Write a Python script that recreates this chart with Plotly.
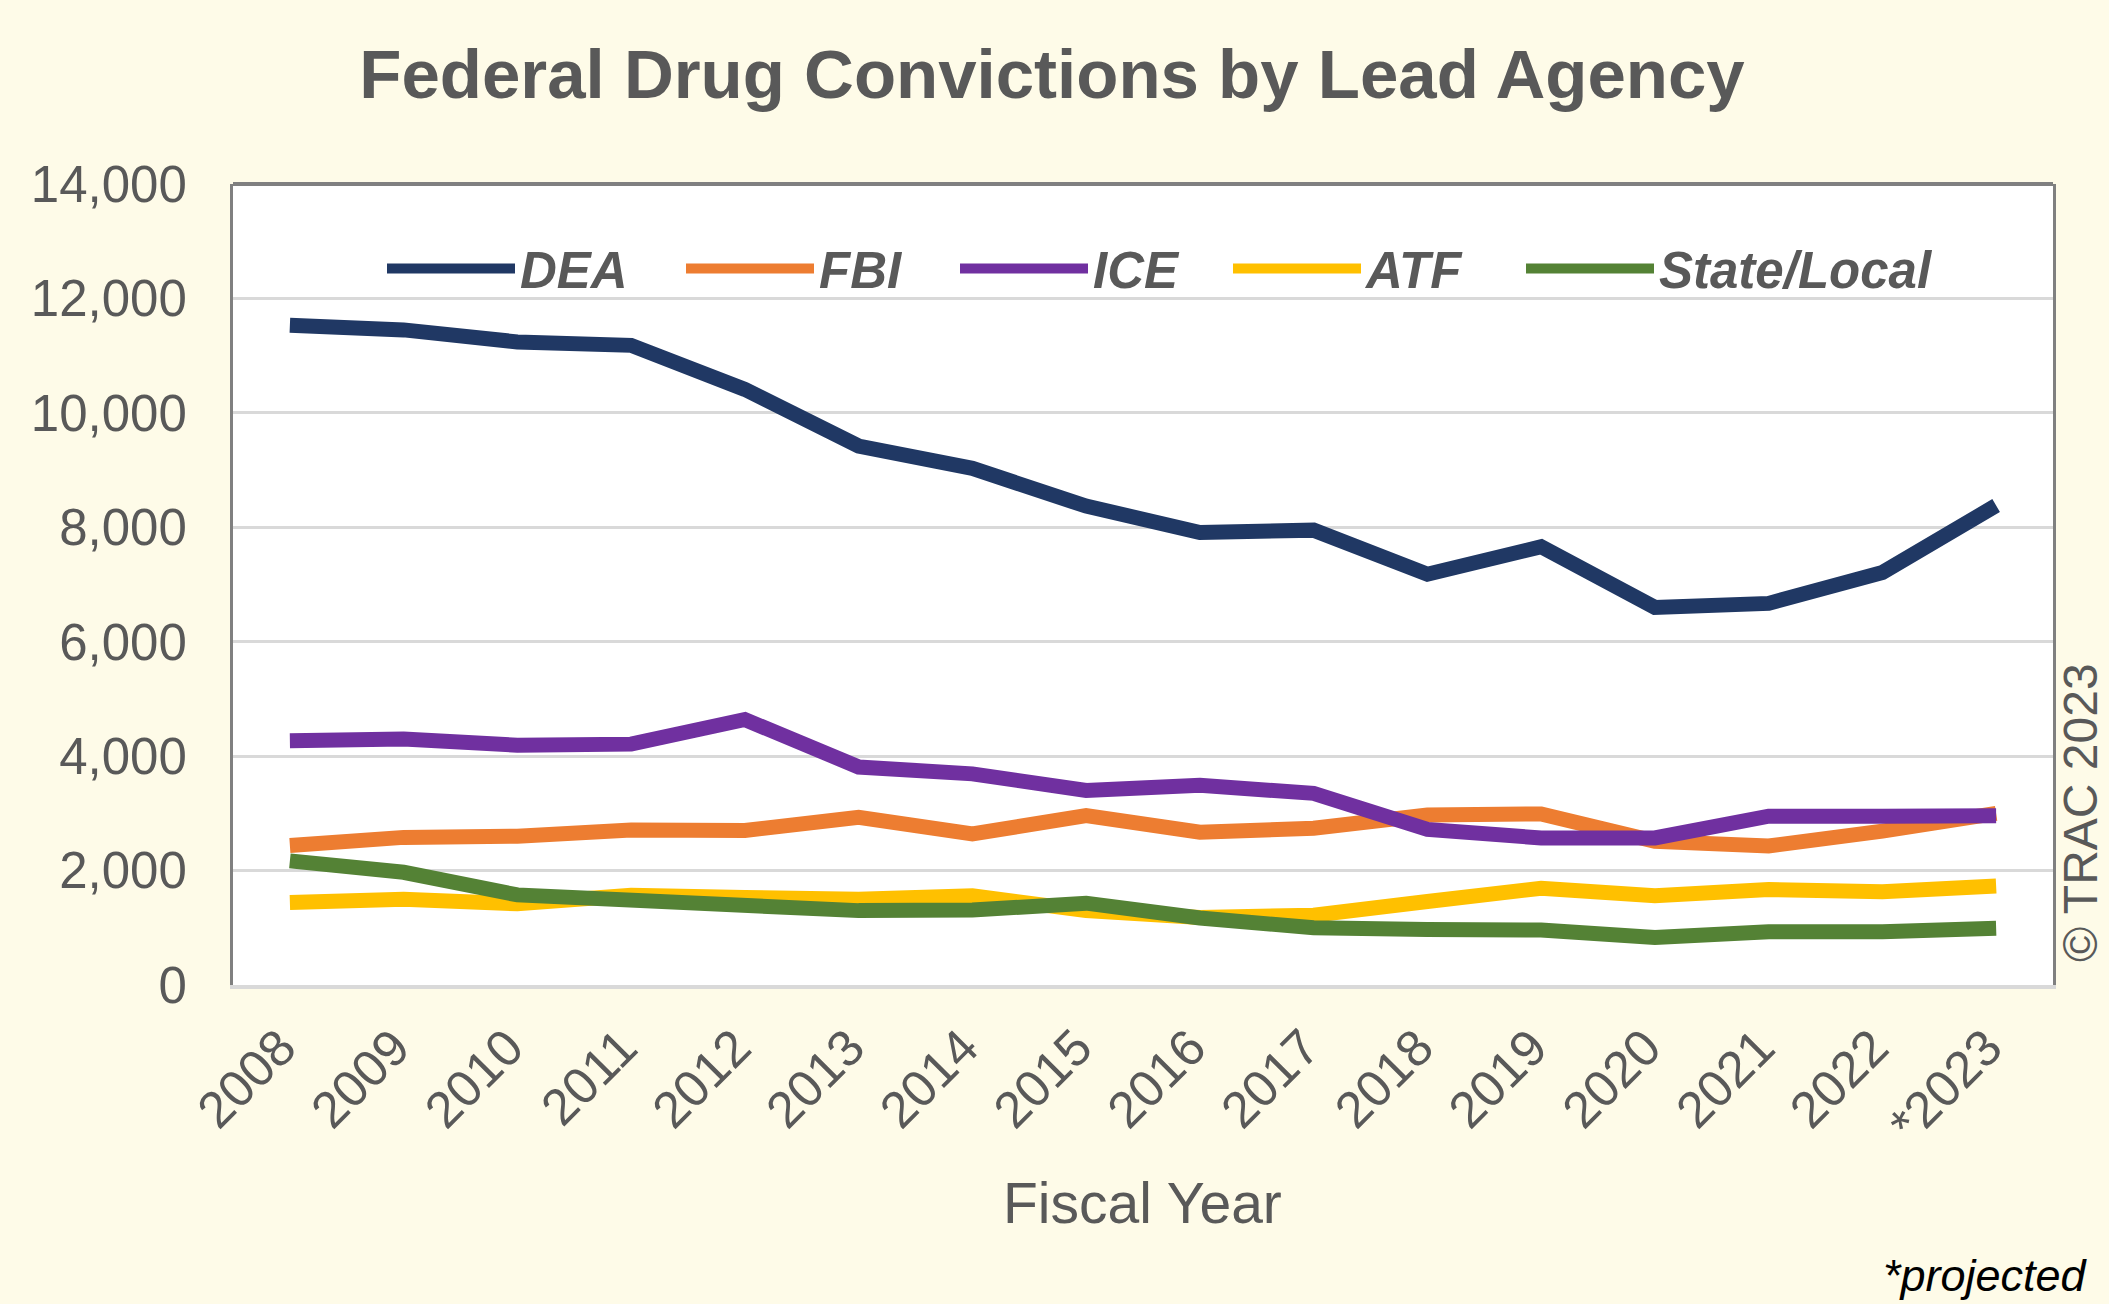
import plotly.graph_objects as go

years = ["2008", "2009", "2010", "2011", "2012", "2013", "2014", "2015",
         "2016", "2017", "2018", "2019", "2020", "2021", "2022", "*2023"]

dea = [11530, 11450, 11240, 11180, 10410, 9420, 9030, 8370,
       7910, 7950, 7180, 7660, 6600, 6670, 7210, 8380]
fbi = [2440, 2580, 2600, 2710, 2700, 2930, 2640, 2960,
       2670, 2740, 2970, 2990, 2510, 2430, 2690, 3000]
ice = [4270, 4300, 4190, 4210, 4640, 3810, 3690, 3400,
       3490, 3350, 2720, 2570, 2570, 2950, 2950, 2960]
atf = [1440, 1500, 1420, 1570, 1530, 1500, 1560, 1300,
       1180, 1220, 1460, 1690, 1560, 1670, 1630, 1730]
state_local = [2170, 1970, 1575, 1490, 1360, 1300, 1310, 1430,
               1170, 1000, 970, 960, 830, 930, 930, 990]

series = [
    ("DEA", dea, "#203864"),
    ("FBI", fbi, "#ED7D31"),
    ("ICE", ice, "#7030A0"),
    ("ATF", atf, "#FFC000"),
    ("State/Local", state_local, "#548235"),
]

FONT = "Liberation Sans, Arial, sans-serif"
GREY = "#595959"

# left edge (px) of each legend entry, as in the reference
legend_left_px = [382, 681, 955, 1228, 1521]
PLOT_L, PLOT_W = 233, 1820

fig = go.Figure()
legend_layout = {}
for i, (name, vals, color) in enumerate(series):
    key = "legend" if i == 0 else f"legend{i + 1}"
    fig.add_trace(go.Scatter(
        x=years, y=vals, name=name, mode="lines",
        line=dict(color=color, width=15),
        legend=key,
    ))
    legend_layout[key] = dict(
        orientation="h",
        x=(legend_left_px[i] - PLOT_L) / PLOT_W, xanchor="left",
        y=0.894, yanchor="middle",
        bgcolor="rgba(0,0,0,0)",
        font=dict(size=51, color=GREY, family=FONT, weight="bold", style="italic"),
        itemwidth=128,
    )

fig.update_layout(
    width=2109, height=1304,
    paper_bgcolor="#FEFBE8",
    plot_bgcolor="#FFFFFF",
    margin=dict(l=233, r=56, t=184, b=319),
    font=dict(family=FONT, color=GREY),
    title=dict(
        text="<b>Federal Drug Convictions by Lead Agency</b>",
        font=dict(size=69, color=GREY, family=FONT),
        x=1052 / 2109, xanchor="center",
        y=1 - 74 / 1304, yanchor="middle", yref="container",
    ),
    showlegend=True,
    xaxis=dict(
        type="category",
        range=[-0.5, 15.5],
        tickangle=-45,
        tickfont=dict(size=51, color=GREY, family=FONT),
        ticklabelshift=-9,
        ticklabelstandoff=8,
        showline=True, linecolor="#D9D9D9", linewidth=4,
        showgrid=False, ticks="",
        zeroline=False,
    ),
    yaxis=dict(
        range=[0, 14000],
        dtick=2000,
        tickformat=",d",
        tickfont=dict(size=51, color=GREY, family=FONT),
        showgrid=True, gridcolor="#D9D9D9", gridwidth=3,
        showline=True, linecolor="#808080", linewidth=3, mirror=True,
        zeroline=False,
        ticks="outside", ticklen=33, tickcolor="rgba(0,0,0,0)",
    ),
    shapes=[dict(
        type="line", xref="paper", yref="paper",
        x0=0, x1=1, y0=1, y1=1,
        line=dict(color="#808080", width=4),
    )],
    annotations=[
        dict(
            text="Fiscal Year", xref="paper", yref="paper",
            x=0.4995, y=(985 - 1203) / 801, xanchor="center", yanchor="middle",
            showarrow=False, font=dict(size=57, color=GREY, family=FONT),
        ),
        dict(
            text="© TRAC 2023", xref="paper", yref="paper",
            x=(2080 - 233) / 1820, y=(985 - 813) / 801,
            xanchor="center", yanchor="middle", textangle=-90,
            showarrow=False, font=dict(size=48, color=GREY, family=FONT),
        ),
        dict(
            text="<i>*projected</i>", xref="paper", yref="paper",
            x=(2090 - 233) / 1820, y=(985 - 1303) / 801,
            xanchor="right", yanchor="bottom",
            showarrow=False, font=dict(size=45, color="#000000", family=FONT),
        ),
    ],
    **legend_layout,
)

fig.write_html(
    "out.html",
    config={"displayModeBar": False},
    post_script="document.body.style.margin='0';",
)
